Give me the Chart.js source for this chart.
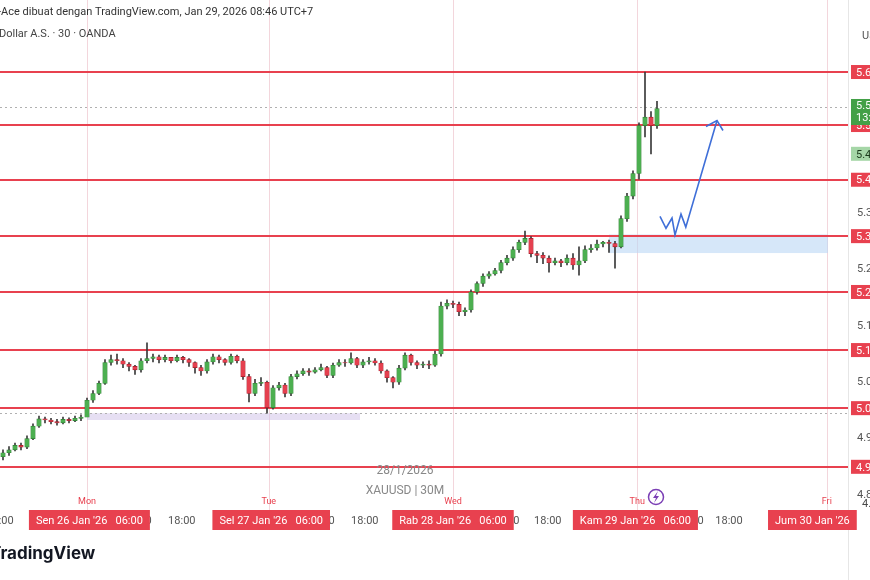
<!DOCTYPE html>
<html>
<head>
<meta charset="utf-8">
<script src="https://cdn.jsdelivr.net/npm/chart.js@4.4.1/dist/chart.umd.min.js"></script>
<style>
  html, body { margin: 0; padding: 0; background: #fff; overflow: hidden; }
  canvas { display: block; }
</style>
</head>
<body>
<canvas id="grafico" width="900" height="580"></canvas>
<script>
// candles, one per slot (30M chart, Sunday evening -> Thursday morning)
var primeiraAbertura = 4918;
var fechamentos = [
  4925, 4930, 4938, 4935, 4950, 4972, 4985, 4983, 4980, 4978,
  4984, 4982, 4986, 4988, 5018, 5030, 5048, 5085, 5090, 5088,
  5082, 5078, 5072, 5088, 5092, 5095, 5090, 5094, 5088, 5094,
  5090, 5085, 5076, 5070, 5086, 5095, 5090, 5085, 5096, 5088,
  5060, 5030, 5048, 5050, 5005, 5040, 5045, 5030, 5060, 5065,
  5070, 5068, 5072, 5076, 5062, 5080, 5085, 5084, 5092, 5080,
  5086, 5088, 5084, 5070, 5058, 5050, 5075, 5098, 5085, 5080,
  5082, 5080, 5100, 5185, 5190, 5188, 5175, 5178, 5210, 5225,
  5238, 5242, 5248, 5262, 5270, 5285, 5298, 5305, 5278, 5275,
  5270, 5262, 5265, 5262, 5270, 5258, 5265, 5285, 5288, 5295,
  5298, 5296, 5290, 5340, 5380, 5420, 5505, 5520, 5505, 5535
];
var maximas = [
  4930, 4936, 4942, 4942, 4955, 4976, 4990, 4988, 4986, 4984,
  4988, 4987, 4990, 4992, 5022, 5035, 5052, 5090, 5098, 5100,
  5092, 5085, 5080, 5092, 5120, 5100, 5098, 5098, 5094, 5098,
  5096, 5092, 5086, 5080, 5090, 5100, 5098, 5092, 5100, 5098,
  5092, 5064, 5055, 5058, 5052, 5044, 5050, 5048, 5064, 5070,
  5074, 5074, 5076, 5082, 5078, 5084, 5090, 5090, 5102, 5094,
  5090, 5094, 5092, 5088, 5072, 5060, 5080, 5102, 5100, 5088,
  5086, 5088, 5105, 5192, 5196, 5194, 5192, 5182, 5214, 5228,
  5242, 5246, 5252, 5266, 5275, 5290, 5302, 5318, 5308, 5282,
  5280, 5274, 5270, 5268, 5276, 5278, 5290, 5292, 5294, 5302,
  5300, 5302, 5300, 5345, 5385, 5425, 5510, 5600, 5530, 5548
];
var minimas = [
  4912, 4920, 4928, 4930, 4932, 4948, 4970, 4978, 4976, 4974,
  4976, 4978, 4980, 4982, 4996, 5014, 5028, 5046, 5080, 5082,
  5076, 5070, 5064, 5068, 5084, 5086, 5084, 5086, 5084, 5086,
  5084, 5078, 5066, 5062, 5066, 5082, 5084, 5080, 5082, 5084,
  5055, 5015, 5026, 5044, 4995, 5002, 5036, 5024, 5026, 5056,
  5062, 5062, 5066, 5070, 5058, 5058, 5078, 5078, 5082, 5076,
  5076, 5082, 5080, 5066, 5050, 5040, 5046, 5072, 5080, 5074,
  5076, 5074, 5078, 5096, 5180, 5182, 5168, 5168, 5174, 5206,
  5220, 5234, 5240, 5244, 5258, 5266, 5280, 5294, 5272, 5262,
  5260, 5245, 5258, 5255, 5258, 5250, 5240, 5262, 5280, 5284,
  5290, 5280, 5252, 5288, 5335, 5375, 5410, 5485, 5455, 5500
];

// levels drawn on the chart
var niveis = [5600, 5506, 5409, 5309, 5210, 5107, 5004, 4900];
var rotulosNiveis = ['5.600', '5.506', '5.409', '5.309', '5.210', '5.107', '5.004', '4.900'];
var precosEixo = [5350, 5250, 5150, 5050, 4950, 4850];
var rotulosEixo = ['5.350', '5.250', '5.150', '5.050', '4.950', '4.850'];
var precoAtual = 5538;

// zones (start slot, end slot, top, bottom)
var zonaRoxa = [14, 59.5, 4995, 4983];
var zonaAzul = [101, 137.5, 5312, 5279];

// projection drawn by hand (slot, price)
var setaX = [109.5, 110.5, 111.5, 112, 113, 113.8, 119];
var setaY = [5344, 5323, 5341, 5311, 5348, 5325, 5514];

// time axis
var dias = ['Mon', 'Tue', 'Wed', 'Thu', 'Fri'];
var posDias = [14, 44.3, 75, 105.7, 137.3];
var rotulosDatas = ["Sen 26 Jan '26   06:00", "Sel 27 Jan '26   06:00", "Rab 28 Jan '26   06:00", "Kam 29 Jan '26   06:00", "Jum 30 Jan '26"];
var posDatas = [14.4, 44.7, 75, 105.4, 134.9];
var horas = ['12:00', '18:00', '12:00', '18:00', '12:00', '18:00', '12:00', '18:00', '12:00', '18:00'];
var posHoras = [-0.5, 29.8, 22.5, 60.3, 53, 90.8, 83.8, 121, 114.5, 151];

var verde = '#4caf50';
var vermelho = '#e5404f';
var linhaVermelha = '#e8414f';

var aberturas = [];
for (var i = 0; i < fechamentos.length; i++) {
    aberturas.push(i == 0 ? primeiraAbertura : fechamentos[i - 1]);
}

var corpos = [], pavios = [], coresCorpo = [], coresBorda = [];
for (var i = 0; i < fechamentos.length; i++) {
    corpos.push({ x: i, y: [aberturas[i], fechamentos[i]] });
    pavios.push({ x: i, y: [minimas[i], maximas[i]] });
    var sobe = fechamentos[i] >= aberturas[i];
    coresCorpo.push(sobe ? verde : vermelho);
    coresBorda.push(sobe ? '#2e7d32' : '#a01826');
}

function badge(ctx, txt, cx, cy, fundo, cor, largura, altura) {
    ctx.fillStyle = fundo;
    ctx.fillRect(cx, cy - altura / 2, largura, altura);
    ctx.fillStyle = cor;
    ctx.textAlign = 'left';
    ctx.textBaseline = 'middle';
    ctx.fillText(txt, cx + 5, cy + 1);
}

const desenhos = {
    id: 'desenhos',
    beforeDatasetsDraw: function (chart) {
        var ctx = chart.ctx, x = chart.scales.x, y = chart.scales.y;
        ctx.save();
        // day separators
        ctx.strokeStyle = '#f3d6dc';
        ctx.lineWidth = 1;
        for (var i = 0; i < posDias.length; i++) {
            var px = Math.round(x.getPixelForValue(posDias[i])) + 0.5;
            ctx.beginPath(); ctx.moveTo(px, 0); ctx.lineTo(px, 510); ctx.stroke();
        }
        // zones
        ctx.fillStyle = 'rgba(209, 196, 233, 0.55)';
        ctx.fillRect(x.getPixelForValue(zonaRoxa[0]), y.getPixelForValue(zonaRoxa[2]),
            x.getPixelForValue(zonaRoxa[1]) - x.getPixelForValue(zonaRoxa[0]), y.getPixelForValue(zonaRoxa[3]) - y.getPixelForValue(zonaRoxa[2]));
        ctx.fillStyle = 'rgba(187, 215, 245, 0.6)';
        ctx.fillRect(x.getPixelForValue(zonaAzul[0]), y.getPixelForValue(zonaAzul[2]),
            x.getPixelForValue(zonaAzul[1]) - x.getPixelForValue(zonaAzul[0]), y.getPixelForValue(zonaAzul[3]) - y.getPixelForValue(zonaAzul[2]));
        // dotted lines
        ctx.setLineDash([2, 3]);
        ctx.strokeStyle = '#b0b0b0';
        var pa = Math.round(y.getPixelForValue(precoAtual)) + 0.5;
        ctx.beginPath(); ctx.moveTo(0, pa); ctx.lineTo(850, pa); ctx.stroke();
        var pz = Math.round(y.getPixelForValue(zonaRoxa[2])) + 0.5;
        ctx.beginPath(); ctx.moveTo(0, pz); ctx.lineTo(850, pz); ctx.stroke();
        ctx.setLineDash([]);
        // red levels
        ctx.strokeStyle = linhaVermelha;
        ctx.lineWidth = 2;
        for (var i = 0; i < niveis.length; i++) {
            var py = Math.round(y.getPixelForValue(niveis[i]));
            ctx.beginPath(); ctx.moveTo(0, py); ctx.lineTo(848, py); ctx.stroke();
        }
        ctx.restore();
    },
    afterDatasetsDraw: function (chart) {
        var ctx = chart.ctx, x = chart.scales.x, y = chart.scales.y;
        ctx.save();
        ctx.font = '11px Roboto';
        // price axis separator
        ctx.strokeStyle = '#e6e6e6';
        ctx.lineWidth = 1;
        ctx.beginPath(); ctx.moveTo(848.5, 0); ctx.lineTo(848.5, 580); ctx.stroke();
        // grey price ticks
        ctx.fillStyle = '#555';
        ctx.textAlign = 'left';
        ctx.textBaseline = 'middle';
        for (var i = 0; i < precosEixo.length; i++) {
            ctx.fillText(rotulosEixo[i], 857, y.getPixelForValue(precosEixo[i]));
        }
        ctx.fillText('US', 862, 36);
        // level badges
        for (var i = 0; i < niveis.length; i++) {
            badge(ctx, rotulosNiveis[i], 851, y.getPixelForValue(niveis[i]), linhaVermelha, '#fff', 60, 14);
        }
        // current price badges
        var yp = y.getPixelForValue(precoAtual);
        ctx.fillStyle = '#43a047';
        ctx.fillRect(851, yp - 8, 60, 26);
        ctx.fillStyle = '#fff';
        ctx.fillText('5.538', 856, yp - 1);
        ctx.fillText('13:14', 856, yp + 11);
        badge(ctx, '5.455', 851, y.getPixelForValue(5455), '#a5d6a7', '#1b3a1b', 60, 14);
        // projection arrow
        ctx.strokeStyle = '#3f6fd8';
        ctx.lineWidth = 1.6;
        ctx.beginPath();
        for (var i = 0; i < setaX.length; i++) {
            var px = x.getPixelForValue(setaX[i]), py = y.getPixelForValue(setaY[i]);
            if (i == 0) ctx.moveTo(px, py); else ctx.lineTo(px, py);
        }
        ctx.stroke();
        var tx = x.getPixelForValue(setaX[setaX.length - 1]), ty = y.getPixelForValue(setaY[setaY.length - 1]);
        ctx.beginPath();
        ctx.moveTo(tx - 11, ty + 6); ctx.lineTo(tx, ty); ctx.lineTo(tx + 6, ty + 10);
        ctx.stroke();
        // header
        ctx.fillStyle = '#333';
        ctx.font = '11px Roboto';
        ctx.textAlign = 'left';
        ctx.fillText('-Ace dibuat dengan TradingView.com, Jan 29, 2026 08:46 UTC+7', -2, 12);
        ctx.fillStyle = '#444';
        ctx.fillText('Dollar A.S. · 30 · OANDA', -1, 34);
        // watermark
        ctx.fillStyle = '#888';
        ctx.textAlign = 'center';
        ctx.font = '12px Roboto';
        ctx.fillText('28/1/2026', 405, 471);
        ctx.fillText('XAUUSD | 30M', 405, 491);
        // time axis
        ctx.font = '11px Roboto';
        ctx.fillStyle = '#555';
        for (var i = 0; i < horas.length; i++) {
            ctx.fillText(horas[i], x.getPixelForValue(posHoras[i]), 521);
        }
        ctx.font = '9px Roboto';
        ctx.fillStyle = linhaVermelha;
        for (var i = 0; i < dias.length; i++) {
            ctx.fillText(dias[i], x.getPixelForValue(posDias[i]), 502);
        }
        ctx.font = '11px Roboto';
        for (var i = 0; i < rotulosDatas.length; i++) {
            var w = ctx.measureText(rotulosDatas[i]).width + 14;
            var cx = x.getPixelForValue(posDatas[i]);
            ctx.fillStyle = linhaVermelha;
            ctx.fillRect(cx - w / 2, 510, w, 20);
            ctx.fillStyle = '#fff';
            ctx.fillText(rotulosDatas[i], cx, 521);
        }
        ctx.fillStyle = '#4a4a4a';
        ctx.textAlign = 'left';
        ctx.fillText('4.8', 862, 504);
        // lightning icon
        ctx.strokeStyle = '#7b3fb5';
        ctx.lineWidth = 1.5;
        ctx.beginPath(); ctx.arc(656, 497, 7.5, 0, Math.PI * 2); ctx.stroke();
        ctx.fillStyle = '#7b3fb5';
        ctx.beginPath();
        ctx.moveTo(658, 491); ctx.lineTo(653, 498); ctx.lineTo(656, 498); ctx.lineTo(654, 503);
        ctx.lineTo(659, 496); ctx.lineTo(656, 496); ctx.closePath(); ctx.fill();
        // logo
        ctx.fillStyle = '#131722';
        ctx.font = 'bold 17px Inter';
        ctx.fillText('TradingView', -10, 554);
        ctx.restore();
    }
};

const config = {
    type: 'bar',
    data: {
        datasets: [
            {
                label: 'pavios',
                data: pavios,
                backgroundColor: '#3a3a3a',
                barThickness: 1,
                grouped: false,
                order: 2
            },
            {
                label: 'corpos',
                data: corpos,
                backgroundColor: coresCorpo,
                borderColor: coresBorda,
                borderWidth: 0.6,
                borderSkipped: false,
                barThickness: 4.5,
                grouped: false,
                order: 1
            }
        ]
    },
    options: {
        responsive: false,
        animation: false,
        layout: { padding: 0 },
        plugins: {
            legend: { display: false },
            tooltip: { enabled: false }
        },
        scales: {
            x: { type: 'linear', offset: false, min: -0.5, max: 149.5, display: false },
            y: { min: 4699.3, max: 5727.7, display: false }
        }
    },
    plugins: [desenhos]
};

const grafico = new Chart(document.getElementById('grafico'), config);
</script>
</body>
</html>
